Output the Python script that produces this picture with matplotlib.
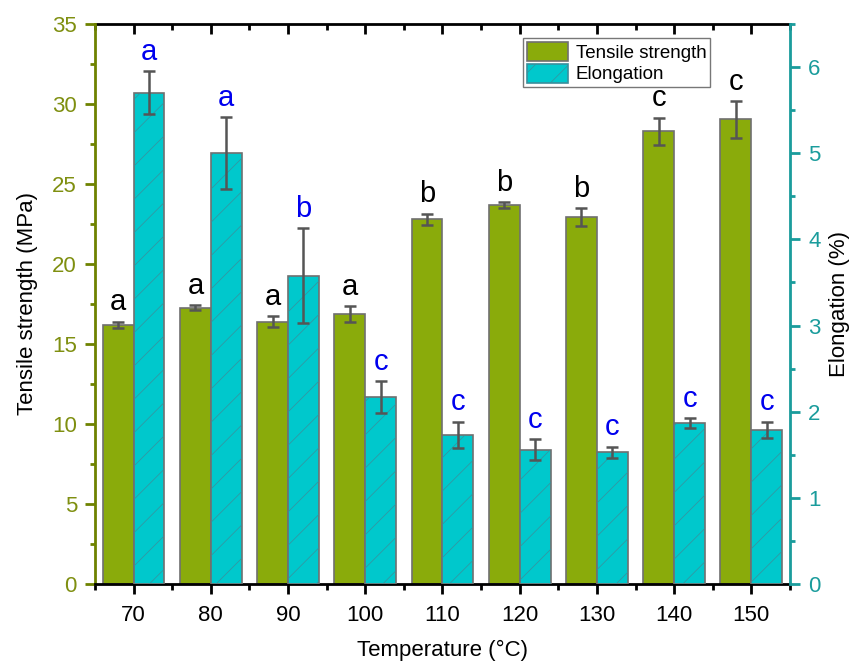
import matplotlib
matplotlib.use('Agg')
import matplotlib.pyplot as plt
from matplotlib.patches import Patch
from matplotlib.ticker import MultipleLocator, FixedLocator
import numpy as np

plt.rcParams['font.family'] = ['Liberation Sans', 'DejaVu Sans']
plt.rcParams['hatch.linewidth'] = 0.5

# data
temps = ['70', '80', '90', '100', '110', '120', '130', '140', '150']
tensile = [16.2, 17.27, 16.4, 16.88, 22.8, 23.68, 22.93, 28.3, 29.05]
tensile_err = [0.2, 0.15, 0.35, 0.5, 0.35, 0.18, 0.55, 0.85, 1.15]
tensile_grp = ['a', 'a', 'a', 'a', 'b', 'b', 'b', 'c', 'c']
elong = [5.70, 5.00, 3.58, 2.17, 1.73, 1.56, 1.53, 1.87, 1.79]
elong_err = [0.25, 0.42, 0.55, 0.19, 0.155, 0.125, 0.065, 0.06, 0.095]
elong_grp = ['a', 'a', 'b', 'c', 'c', 'c', 'c', 'c', 'c']

green = '#8aab0b'
cyan = '#00c8cc'
olive = '#6e8200'
olive_txt = '#7f8f10'
teal = '#1a9c9c'
err_c = '#555555'
edge_c = '#707070'

x = np.arange(len(temps))
w = 0.4

fig = plt.figure(figsize=(8.52, 6.63), dpi=100)
ax = fig.add_axes([0.1115, 0.1192, 0.8157, 0.8446])
ax2 = ax.twinx()

# tensile strength bars (left axis)
ax.bar(x - w / 2, tensile, w, color=green, edgecolor=edge_c, linewidth=1.2, zorder=2)
ax.errorbar(x - w / 2, tensile, yerr=tensile_err, fmt='none', ecolor=err_c,
            elinewidth=1.8, capsize=4.5, capthick=1.8, zorder=3)

# elongation bars (right axis), hatch drawn as a second layer
ax2.bar(x + w / 2, elong, w, color=cyan, edgecolor=edge_c, linewidth=1.2, zorder=2)
ax2.bar(x + w / 2, elong, w, color='none', edgecolor='#3a8f9c', linewidth=0,
        hatch='/', zorder=2)
ax2.errorbar(x + w / 2, elong, yerr=elong_err, fmt='none', ecolor=err_c,
             elinewidth=1.8, capsize=4.5, capthick=1.8, zorder=3)

for i in range(len(temps)):
    ax.annotate(tensile_grp[i], (x[i] - w / 2, tensile[i] + tensile_err[i]),
                xytext=(0, 8), textcoords='offset points', ha='center',
                va='baseline', fontsize=21, color='black')
    ax2.annotate(elong_grp[i], (x[i] + w / 2, elong[i] + elong_err[i]),
                 xytext=(0, 8), textcoords='offset points', ha='center',
                 va='baseline', fontsize=21, color='#0000ee')

ax.set_xlim(-0.5, len(temps) - 0.5)
ax.set_ylim(0, 35)
ax2.set_ylim(0, 6.5)

ax.set_xticks(x)
ax.set_xticklabels(temps, fontsize=16)
ax.xaxis.set_minor_locator(FixedLocator(np.arange(-0.5, len(temps), 1)))
ax.tick_params(axis='x', which='major', direction='out', length=7, width=2, pad=8)
ax.tick_params(axis='x', which='minor', direction='out', length=4, width=2)

top = ax.secondary_xaxis('top')
top.set_xticks(x)
top.xaxis.set_minor_locator(FixedLocator(np.arange(-0.5, len(temps), 1)))
top.tick_params(axis='x', which='major', direction='in', length=7, width=2, labeltop=False)
top.tick_params(axis='x', which='minor', direction='in', length=4, width=2)
top.spines['top'].set_linewidth(2)

ax.yaxis.set_major_locator(MultipleLocator(5))
ax.yaxis.set_minor_locator(MultipleLocator(2.5))
ax.tick_params(axis='y', which='major', direction='out', length=7, width=2,
               color=olive, labelcolor=olive_txt, labelsize=16, pad=6)
ax.tick_params(axis='y', which='minor', direction='out', length=3.5, width=2, color=olive)

ax2.yaxis.set_major_locator(MultipleLocator(1))
ax2.yaxis.set_minor_locator(MultipleLocator(0.5))
ax2.tick_params(axis='y', which='major', direction='out', length=7, width=2,
                color=teal, labelcolor=teal, labelsize=16, pad=6)
ax2.tick_params(axis='y', which='minor', direction='out', length=3.5, width=2, color=teal)

ax.spines['left'].set_color(olive)
ax.spines['left'].set_linewidth(2)
ax.spines['bottom'].set_linewidth(2)
ax.spines['right'].set_visible(False)
ax.spines['top'].set_visible(False)
for s in ['left', 'top', 'bottom']:
    ax2.spines[s].set_visible(False)
ax2.spines['right'].set_color(teal)
ax2.spines['right'].set_linewidth(2)

ax.set_ylabel('Tensile strength (MPa)', fontsize=16, labelpad=10)
ax2.set_ylabel('Elongation (%)', fontsize=16, labelpad=6)
ax.set_xlabel('Temperature (°C)', fontsize=16, labelpad=10)

handles = [Patch(facecolor=green, edgecolor=edge_c, linewidth=1.2),
           Patch(facecolor=cyan, edgecolor='#3a8f9c', linewidth=1.2, hatch='/')]
leg = ax2.legend(handles, ['Tensile strength', 'Elongation'], loc='upper right',
                 bbox_to_anchor=(0.885, 0.975), fontsize=13.5, fancybox=False,
                 edgecolor='#777777', framealpha=1, borderpad=0.2,
                 handlelength=2.2, handleheight=1.2, labelspacing=0.1,
                 handletextpad=0.4, borderaxespad=0)
leg.get_frame().set_linewidth(1)

fig.savefig('out.png', dpi=100)
